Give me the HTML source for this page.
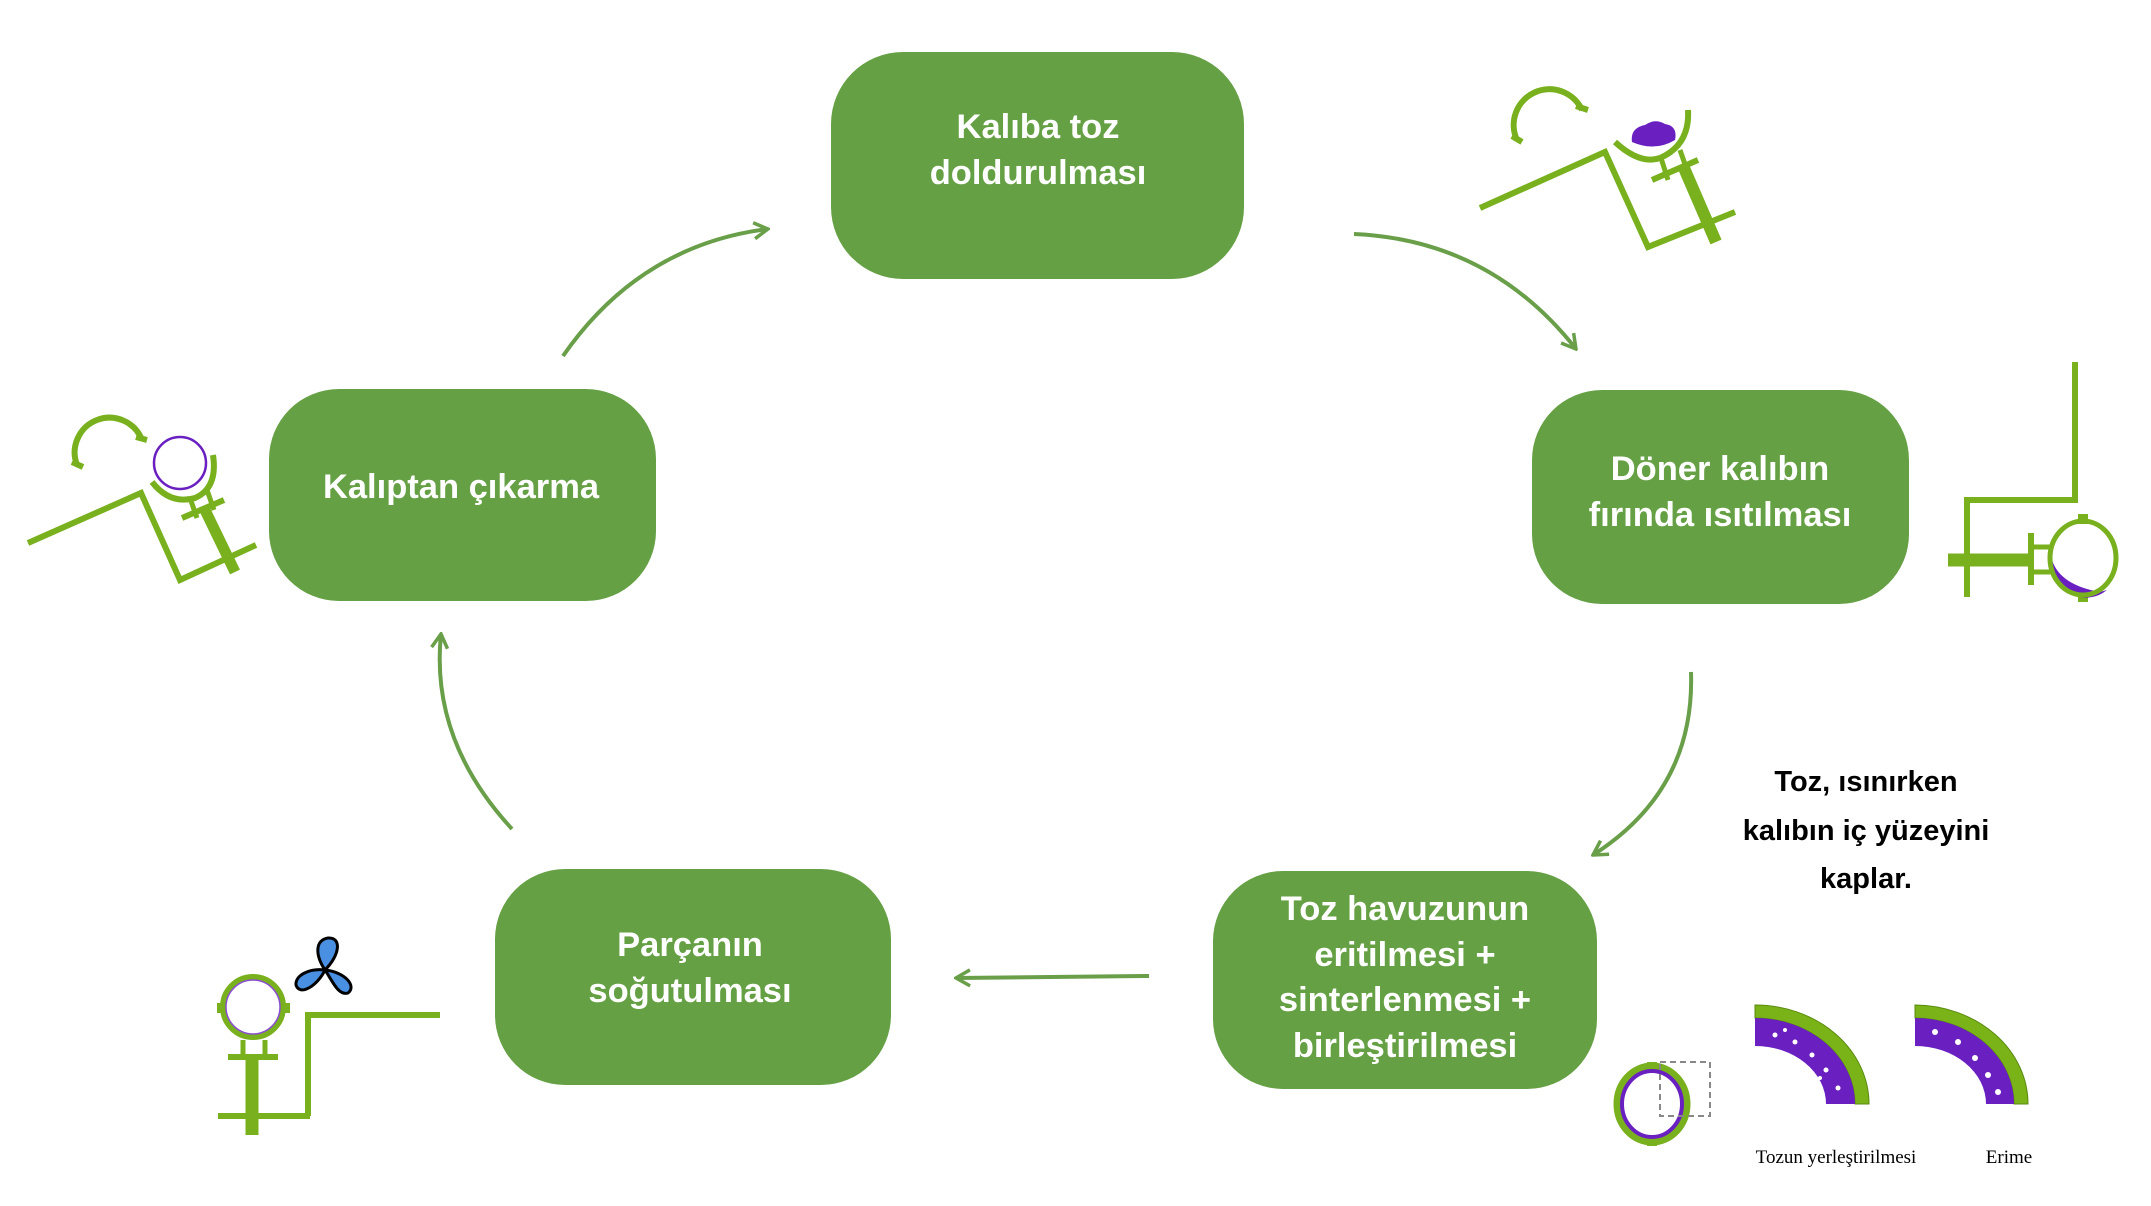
<!DOCTYPE html>
<html><head><meta charset="utf-8"><style>
html,body{margin:0;padding:0;background:#fff}
svg{display:block}
.bt{font-family:"Liberation Sans",sans-serif;font-weight:bold;font-size:34.5px;fill:#fff;text-anchor:middle}
</style></head><body>
<svg width="2151" height="1206" viewBox="0 0 2151 1206" xmlns="http://www.w3.org/2000/svg">
<defs>
<marker id="ah" viewBox="0 0 20 20" refX="18" refY="10" markerWidth="20" markerHeight="20" markerUnits="userSpaceOnUse" orient="auto">
<polyline points="4,2 18,10 4,18" fill="none" stroke="#6a9f4a" stroke-width="3.5"/>
</marker>
</defs>
<g fill="#65a044">
<rect x="831" y="52" width="413" height="227" rx="72"/>
<rect x="1532" y="390" width="377" height="214" rx="70"/>
<rect x="1213" y="871" width="384" height="218" rx="70"/>
<rect x="495" y="869" width="396" height="216" rx="70"/>
<rect x="269" y="389" width="387" height="212" rx="70"/>
</g>
<text class="bt" x="1038" y="138">Kalıba toz</text>
<text class="bt" x="1038" y="184">doldurulması</text>
<text class="bt" x="1720" y="480">Döner kalıbın</text>
<text class="bt" x="1720" y="526">fırında ısıtılması</text>
<text class="bt" x="1405" y="920">Toz havuzunun</text>
<text class="bt" x="1405" y="966">eritilmesi +</text>
<text class="bt" x="1405" y="1011">sinterlenmesi +</text>
<text class="bt" x="1405" y="1057">birleştirilmesi</text>
<text class="bt" x="690" y="956">Parçanın</text>
<text class="bt" x="690" y="1002">soğutulması</text>
<text class="bt" x="461" y="498">Kalıptan çıkarma</text>
<g fill="none" stroke="#6a9f4a" stroke-width="4" marker-end="url(#ah)">
<path d="M563,356 Q640,245 768,229"/>
<path d="M1354,234 Q1490,240 1576,349"/>
<path d="M1691,672 Q1695,790 1593,855"/>
<path d="M1149,976 L956,978"/>
<path d="M512,829 Q430,740 441,634"/>
</g>
<g font-family="Liberation Sans,sans-serif" font-weight="bold" font-size="29" fill="#000" text-anchor="middle">
<text x="1866" y="791">Toz, ısınırken</text>
<text x="1866" y="840">kalıbın iç yüzeyini</text>
<text x="1866" y="888">kaplar.</text>
</g>
<g font-family="Liberation Serif,serif" font-size="19" fill="#000" text-anchor="middle">
<text x="1836" y="1163">Tozun yerleştirilmesi</text>
<text x="2009" y="1163">Erime</text>
</g>
<g fill="none" stroke="#78b01e" stroke-linecap="butt">
<path d="M1517,140 A32,32 0 1 1 1582,110" stroke-width="6"/>
<path d="M1512,136 L1522,142" stroke-width="6"/>
<path d="M1576,106 L1588,110" stroke-width="6"/>
<polyline points="1480,208 1605,152 1648,247 1735,212" stroke-width="6"/>
<path d="M1615,142 Q1640,165 1660,158 Q1690,145 1688,110" stroke-width="6"/>
<line x1="1661" y1="158" x2="1668" y2="180" stroke-width="5"/>
<line x1="1680" y1="150" x2="1687" y2="170" stroke-width="5"/>
<line x1="1652" y1="180" x2="1698" y2="160" stroke-width="6"/>
<line x1="1684" y1="168" x2="1716" y2="242" stroke-width="12"/>
</g>
<path d="M1632,142 Q1630,128 1645,125 Q1655,118 1665,124 Q1678,126 1675,140 Q1655,152 1632,142Z" fill="#6a1fc0"/>
<g fill="none" stroke="#78b01e">
<polyline points="2075,362 2075,500 1967,500 1967,597" stroke-width="6"/>
<line x1="1948" y1="560" x2="2030" y2="560" stroke-width="13"/>
<line x1="2031" y1="533" x2="2031" y2="585" stroke-width="6"/>
<line x1="2034" y1="547" x2="2052" y2="547" stroke-width="5"/>
<line x1="2034" y1="572" x2="2052" y2="572" stroke-width="5"/>
<line x1="2083" y1="514" x2="2083" y2="524" stroke-width="10"/>
<line x1="2083" y1="592" x2="2083" y2="602" stroke-width="10"/>
</g>
<path d="M2052,560 Q2060,585 2100,592 L2107,590 A34,36 0 0 1 2052,560Z" fill="#6a1fc0"/>
<ellipse cx="2083" cy="558" rx="33" ry="37" fill="none" stroke="#78b01e" stroke-width="5"/>
<g fill="none" stroke="#78b01e">
<path d="M77,465 A33,33 0 1 1 142,440" stroke-width="6"/>
<path d="M72,462 L83,467" stroke-width="6"/>
<path d="M136,437 L147,440" stroke-width="6"/>
<polyline points="28,543 141,493 180,580 256,545" stroke-width="6"/>
<path d="M152,482 Q170,505 195,498 Q218,488 213,455" stroke-width="6"/>
<line x1="190" y1="498" x2="197" y2="518" stroke-width="5"/>
<line x1="207" y1="490" x2="214" y2="510" stroke-width="5"/>
<line x1="182" y1="518" x2="224" y2="500" stroke-width="6"/>
<line x1="205" y1="510" x2="235" y2="572" stroke-width="11"/>
</g>
<circle cx="180" cy="463" r="26" fill="#fff" stroke="#6a1fc0" stroke-width="2.5"/>
<g fill="none" stroke="#78b01e">
<line x1="217" y1="1008" x2="290" y2="1008" stroke-width="10"/>
<line x1="243" y1="1040" x2="243" y2="1057" stroke-width="5"/>
<line x1="265" y1="1040" x2="265" y2="1057" stroke-width="5"/>
<line x1="228" y1="1057" x2="278" y2="1057" stroke-width="6"/>
<line x1="252" y1="1057" x2="252" y2="1135" stroke-width="13"/>
<line x1="218" y1="1116" x2="310" y2="1116" stroke-width="6"/>
<polyline points="308,1116 308,1015 440,1015" stroke-width="6"/>
</g>
<circle cx="253" cy="1007" r="30" fill="#fff" stroke="#78b01e" stroke-width="6"/>
<circle cx="253" cy="1007" r="27" fill="none" stroke="#8a4fd0" stroke-width="1.5"/>
<g fill="#4a90e2" stroke="#000" stroke-width="3">
<path d="M325,970 C315,955 315,940 328,938 C342,937 340,955 325,970Z"/>
<path d="M325,970 C310,968 295,975 296,985 C300,997 318,985 325,970Z"/>
<path d="M325,970 C332,980 338,996 348,993 C357,986 345,972 325,970Z"/>
</g>
<line x1="1652" y1="1062" x2="1652" y2="1146" stroke="#78b01e" stroke-width="10"/>
<ellipse cx="1652" cy="1104" rx="35" ry="38" fill="#fff" stroke="#78b01e" stroke-width="7"/>
<ellipse cx="1652" cy="1104" rx="30" ry="33" fill="none" stroke="#6a1fc0" stroke-width="4"/>
<polyline points="1660,1062 1710,1062 1710,1116 1660,1116 1660,1062" fill="none" stroke="#888" stroke-width="2" stroke-dasharray="6,4"/>
<g>
<path d="M1755,1005 A114,99 0 0 1 1869,1104 L1855,1104 A100,86 0 0 0 1755,1018Z" fill="#7ab317" stroke="#5a8a10" stroke-width="1"/>
<path d="M1755,1018 A100,86 0 0 1 1855,1104 L1826,1104 A71,58 0 0 0 1755,1046Z" fill="#6a1fc0"/>
<path d="M1915,1005 A114,99 0 0 1 2028,1104 L2014,1104 A99,86 0 0 0 1915,1018Z" fill="#7ab317" stroke="#5a8a10" stroke-width="1"/>
<path d="M1915,1018 A99,86 0 0 1 2014,1104 L1986,1104 A71,58 0 0 0 1915,1046Z" fill="#6a1fc0"/>
</g>
<g fill="#fff">
<circle cx="1775" cy="1035" r="2.5"/><circle cx="1795" cy="1042" r="2.5"/><circle cx="1812" cy="1055" r="2.5"/><circle cx="1826" cy="1070" r="2.5"/><circle cx="1838" cy="1088" r="2.5"/><circle cx="1785" cy="1030" r="2"/><circle cx="1820" cy="1078" r="2"/>
<circle cx="1935" cy="1032" r="3"/><circle cx="1958" cy="1042" r="3"/><circle cx="1975" cy="1058" r="3"/><circle cx="1988" cy="1075" r="3"/><circle cx="1998" cy="1092" r="3"/>
</g>
</svg>
</body></html>
